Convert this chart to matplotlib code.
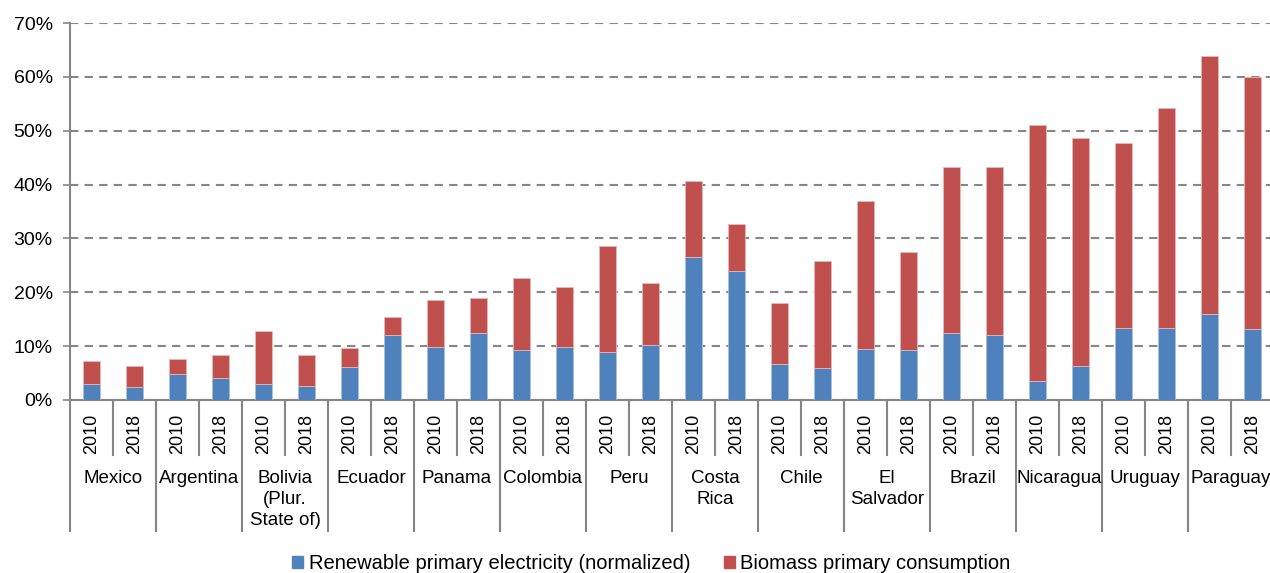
import numpy as np
import matplotlib
matplotlib.use("Agg")
import matplotlib.pyplot as plt
from matplotlib.patches import Patch
from matplotlib.ticker import FuncFormatter

plt.rcParams['font.family'] = ['Liberation Sans', 'DejaVu Sans']

countries = ['Mexico', 'Argentina', 'Bolivia\n(Plur.\nState of)', 'Ecuador', 'Panama',
             'Colombia', 'Peru', 'Costa\nRica', 'Chile', 'El\nSalvador', 'Brazil',
             'Nicaragua', 'Uruguay', 'Paraguay']
years = ['2010', '2018']

# renewable primary electricity (normalized), % -- 2010, 2018 per country
renewable = [3.0, 2.4, 4.8, 4.1, 3.0, 2.6, 6.1, 12.0, 9.8, 12.4,
             9.2, 9.9, 9.0, 10.2, 26.6, 24.0, 6.6, 6.0, 9.4, 9.3,
             12.5, 12.0, 3.6, 6.3, 13.3, 13.3, 16.0, 13.1]
# total share (renewable + biomass), %
total = [7.2, 6.4, 7.7, 8.3, 12.8, 8.3, 9.7, 15.5, 18.6, 18.9,
         22.7, 20.9, 28.6, 21.8, 40.7, 32.7, 18.0, 25.8, 37.0, 27.4,
         43.3, 43.3, 51.1, 48.6, 47.7, 54.2, 63.8, 60.0]
biomass = [t - r for t, r in zip(total, renewable)]

blue = '#4F81BD'
red = '#C0504D'
grey = '#868686'
fs = 13.5

fig = plt.figure(figsize=(12.7, 5.73), dpi=100)
W, H = 1270, 573
ax = fig.add_axes([70 / W, 173 / H, 1204 / W, 377 / H])

x = np.arange(len(renewable))
ax.bar(x, renewable, width=0.4, color=blue, edgecolor='#A7BFDE', linewidth=0.6, zorder=3)
ax.bar(x, biomass, width=0.4, bottom=renewable, color=red, edgecolor='#E6B9B8',
       linewidth=0.6, zorder=3)

ax.set_xlim(-0.5, len(x) - 0.5)
ax.set_ylim(0, 70)
ax.set_yticks(np.arange(0, 71, 10))
ax.yaxis.set_major_formatter(FuncFormatter(lambda v, p: f'{v:.0f}%'))
ax.yaxis.grid(True, linestyle=(0, (4, 3)), color=grey, linewidth=1.5, zorder=0)
ax.tick_params(axis='y', length=5, width=1.2, color=grey, pad=7.5, labelsize=14)

ax.set_xticks(x, labels=years * len(countries), rotation=90)
ax.tick_params(axis='x', length=0, pad=10, labelsize=13)

for s in ['top', 'right']:
    ax.spines[s].set_visible(False)
for s in ['left', 'bottom']:
    ax.spines[s].set_color(grey)
    ax.spines[s].set_linewidth(1.5)

trans = ax.get_xaxis_transform()
for k, name in enumerate(countries):
    left = 2 * k - 0.5
    ax.plot([left, left], [0, -0.347], transform=trans, color=grey, lw=1.5, clip_on=False)
    ax.plot([left + 1, left + 1], [0, -0.146], transform=trans, color=grey, lw=1.5, clip_on=False)
    ax.text(left + 1, -0.186, name, transform=trans, ha='center', va='top',
            fontsize=fs, linespacing=1.3)
ax.plot([len(x) - 0.5] * 2, [0, -0.347], transform=trans, color=grey, lw=1.5, clip_on=False)

handles = [Patch(color=blue, label='Renewable primary electricity (normalized)'),
           Patch(color=red, label='Biomass primary consumption')]
fig.legend(handles=handles, loc='center', bbox_to_anchor=(0.513, 0.017), ncol=2,
           frameon=False, fontsize=14.5, handlelength=0.55, handleheight=0.55,
           handletextpad=0.25, columnspacing=1.7)

fig.savefig('out.png', dpi=100)
